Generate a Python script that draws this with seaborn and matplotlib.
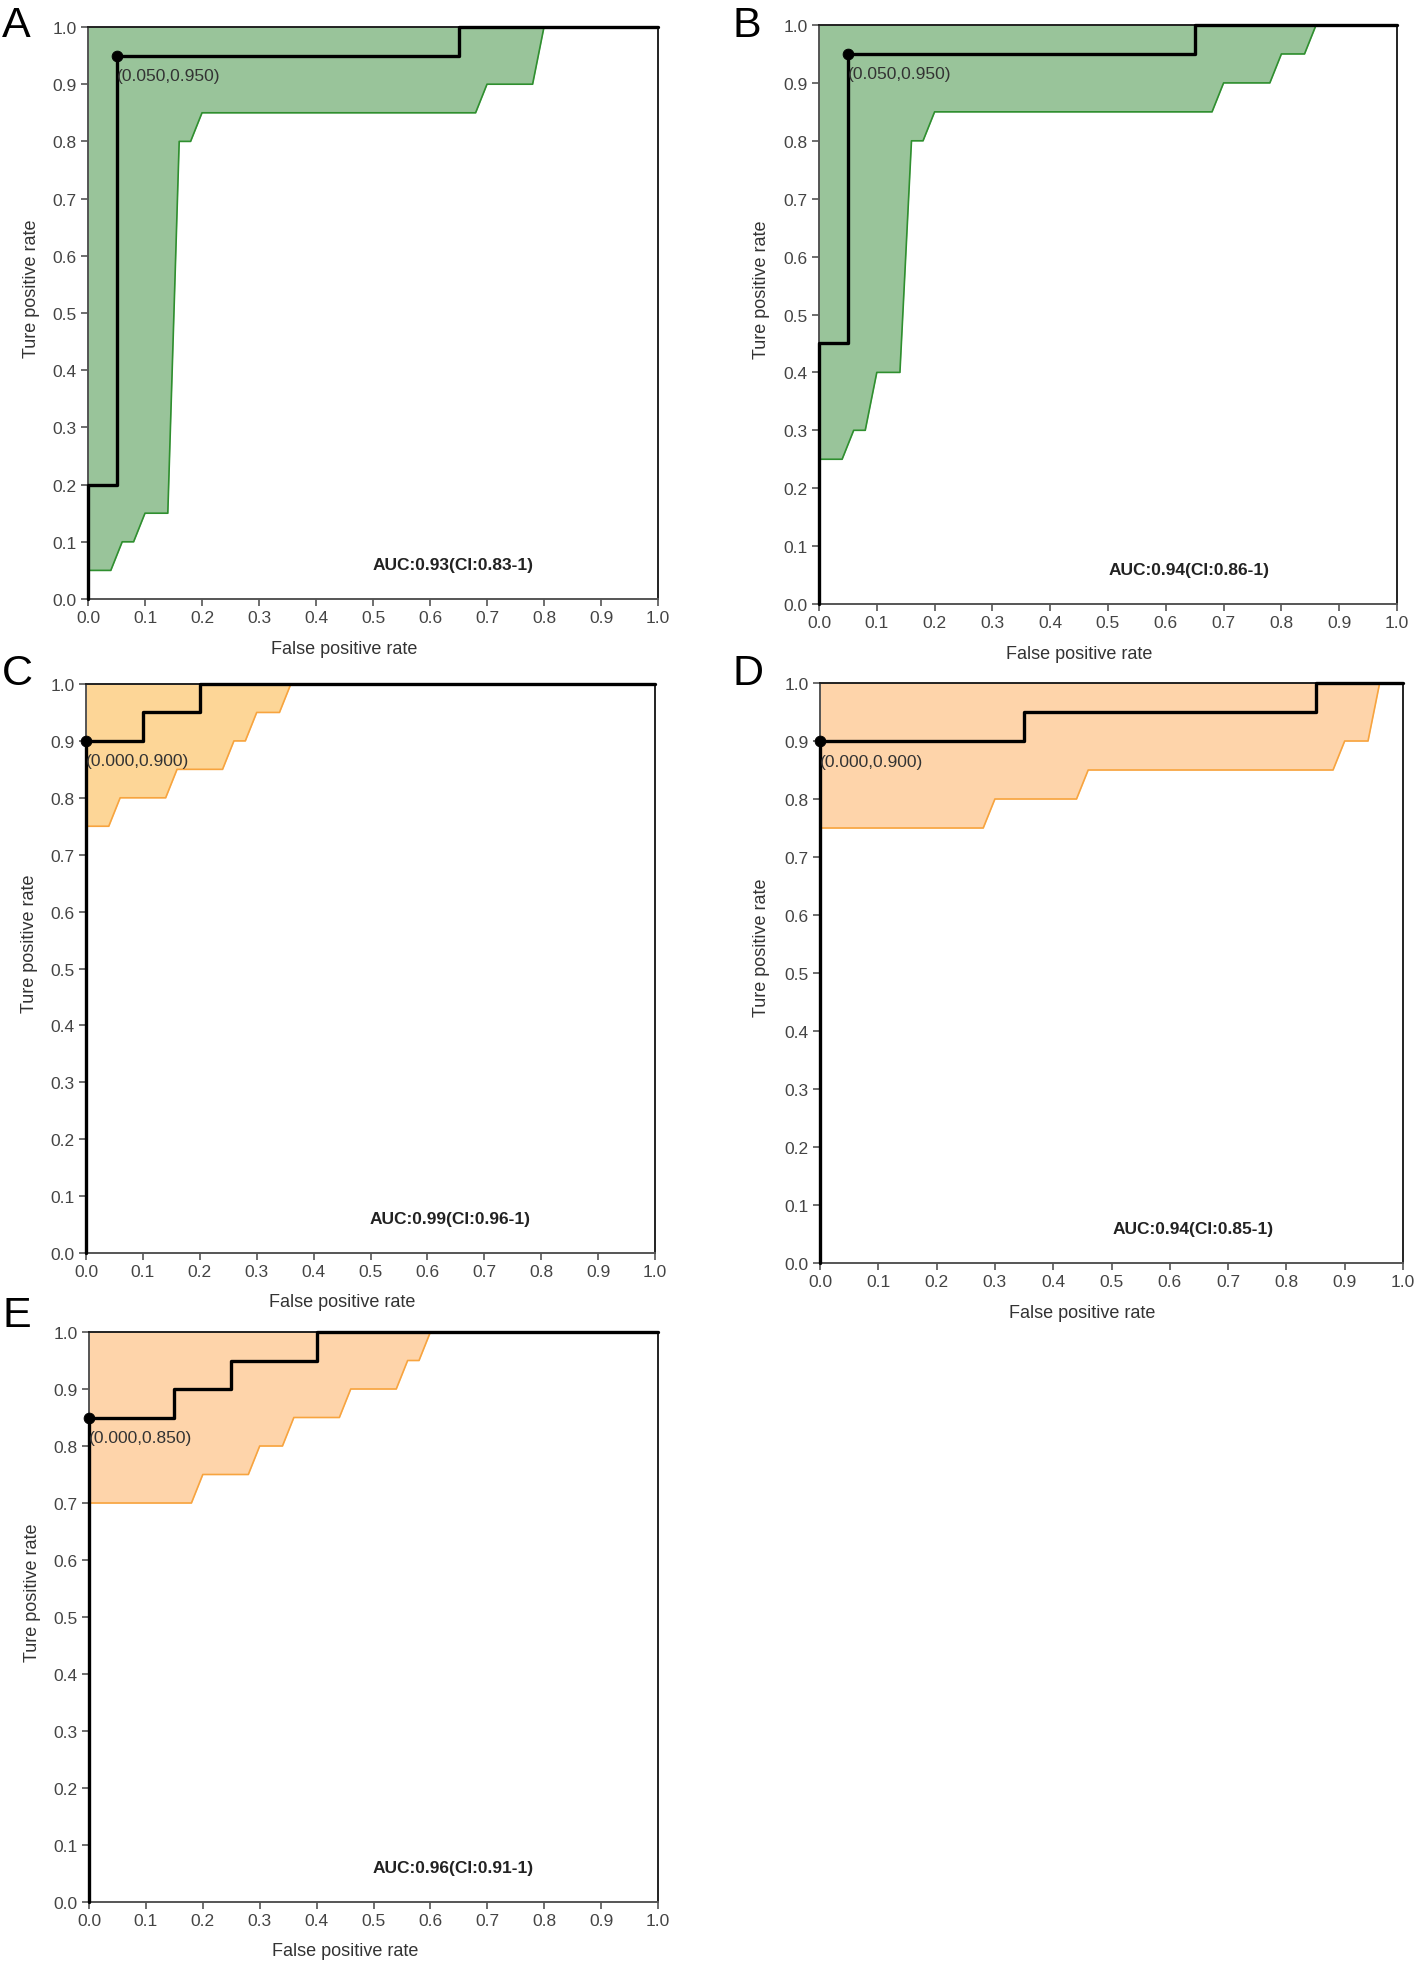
import matplotlib
matplotlib.use('Agg')
import matplotlib.pyplot as plt
import seaborn as sns
import pandas as pd

sns.set_style('white')
plt.rcParams['font.family'] = ['Liberation Sans', 'DejaVu Sans']

# ROC step curves (fpr, tpr)
roc_a_x = [0, 0, 0.05, 0.05, 0.65, 0.65, 1.0]
roc_a_y = [0, 0.2, 0.2, 0.95, 0.95, 1.0, 1.0]
roc_b_x = [0, 0, 0.05, 0.05, 0.65, 0.65, 1.0]
roc_b_y = [0, 0.45, 0.45, 0.95, 0.95, 1.0, 1.0]
roc_c_x = [0, 0, 0.1, 0.1, 0.2, 0.2, 1.0]
roc_c_y = [0, 0.9, 0.9, 0.95, 0.95, 1.0, 1.0]
roc_d_x = [0, 0, 0.35, 0.35, 0.85, 0.85, 1.0]
roc_d_y = [0, 0.9, 0.9, 0.95, 0.95, 1.0, 1.0]
roc_e_x = [0, 0, 0.15, 0.15, 0.25, 0.25, 0.4, 0.4, 1.0]
roc_e_y = [0, 0.85, 0.85, 0.9, 0.9, 0.95, 0.95, 1.0, 1.0]

# lower bound of confidence band (upper bound is 1.0)
ci_a_x = [0, 0.04, 0.06, 0.08, 0.1, 0.14, 0.16, 0.18, 0.2, 0.68, 0.7, 0.78, 0.8]
ci_a_y = [0.05, 0.05, 0.1, 0.1, 0.15, 0.15, 0.8, 0.8, 0.85, 0.85, 0.9, 0.9, 1.0]
ci_b_x = [0, 0.04, 0.06, 0.08, 0.1, 0.14, 0.16, 0.18, 0.2, 0.68, 0.7, 0.78, 0.8, 0.84, 0.86]
ci_b_y = [0.25, 0.25, 0.3, 0.3, 0.4, 0.4, 0.8, 0.8, 0.85, 0.85, 0.9, 0.9, 0.95, 0.95, 1.0]
ci_c_x = [0, 0.04, 0.06, 0.14, 0.16, 0.24, 0.26, 0.28, 0.3, 0.34, 0.36]
ci_c_y = [0.75, 0.75, 0.8, 0.8, 0.85, 0.85, 0.9, 0.9, 0.95, 0.95, 1.0]
ci_d_x = [0, 0.28, 0.3, 0.44, 0.46, 0.88, 0.9, 0.94, 0.96]
ci_d_y = [0.75, 0.75, 0.8, 0.8, 0.85, 0.85, 0.9, 0.9, 1.0]
ci_e_x = [0, 0.18, 0.2, 0.28, 0.3, 0.34, 0.36, 0.44, 0.46, 0.54, 0.56, 0.58, 0.6]
ci_e_y = [0.7, 0.7, 0.75, 0.75, 0.8, 0.8, 0.85, 0.85, 0.9, 0.9, 0.95, 0.95, 1.0]

cut_points = [(0.05, 0.95), (0.05, 0.95), (0.0, 0.9), (0.0, 0.9), (0.0, 0.85)]
auc_texts = ['AUC:0.93(CI:0.83-1)', 'AUC:0.94(CI:0.86-1)', 'AUC:0.99(CI:0.96-1)',
             'AUC:0.94(CI:0.85-1)', 'AUC:0.96(CI:0.91-1)']
letters = ['A', 'B', 'C', 'D', 'E']

green_fill, green_edge = '#99c49a', '#2f8f2f'
orange_fill_c, orange_fill, orange_edge = '#fdd697', '#fed4aa', '#f7a43f'

panels = [
    (roc_a_x, roc_a_y, ci_a_x, ci_a_y, green_fill, green_edge),
    (roc_b_x, roc_b_y, ci_b_x, ci_b_y, green_fill, green_edge),
    (roc_c_x, roc_c_y, ci_c_x, ci_c_y, orange_fill_c, orange_edge),
    (roc_d_x, roc_d_y, ci_d_x, ci_d_y, orange_fill, orange_edge),
    (roc_e_x, roc_e_y, ci_e_x, ci_e_y, orange_fill, orange_edge),
]

W, H = 1418, 1965
# axes boxes in pixels: left, top, right, bottom
boxes = [(88, 28, 658, 600), (819, 26, 1397, 605), (86, 685, 655, 1254),
         (820, 684, 1403, 1264), (89, 1333, 658, 1903)]
letter_pos = [(2, 6), (733, 6), (2, 654), (733, 654), (2, 1296)]

fig = plt.figure(figsize=(W / 100, H / 100), dpi=100)
ticks = [i / 10 for i in range(11)]

for i, (rx, ry, lx, ly, fc, ec) in enumerate(panels):
    l, t, r, b = boxes[i]
    ax = fig.add_axes([l / W, 1 - b / H, (r - l) / W, (b - t) / H])
    # confidence band
    ax.fill_between(lx, ly, [1.0] * len(lx), color=fc, lw=0, zorder=1)
    band = pd.DataFrame({'x': lx, 'y': ly})
    sns.lineplot(data=band, x='x', y='y', sort=False, estimator=None,
                 color=ec, lw=1.2, ax=ax, zorder=2)
    ax.plot([0, 0, lx[-1]], [ly[0], 1.0, 1.0], color=ec, lw=1.2, zorder=2)
    # ROC curve
    roc = pd.DataFrame({'fpr': rx, 'tpr': ry})
    sns.lineplot(data=roc, x='fpr', y='tpr', sort=False, estimator=None,
                 color='black', lw=2.4, ax=ax, zorder=4, clip_on=False)
    px, py = cut_points[i]
    sns.scatterplot(x=[px], y=[py], color='black', s=60, ax=ax, zorder=5,
                    edgecolor='black', clip_on=False)
    ax.annotate('(%.3f,%.3f)' % (px, py), (px, py), xytext=(0, -9),
                textcoords='offset points', ha='left', va='top',
                fontsize=12.5, color='#333333', zorder=6)
    ax.text(0.64, 0.06, auc_texts[i], transform=ax.transAxes, ha='center',
            va='center', fontsize=12.5, fontweight='bold', color='#222222')

    ax.set_xlim(0, 1)
    ax.set_ylim(0, 1)
    ax.set_xticks(ticks)
    ax.set_yticks(ticks)
    ax.set_xticklabels(['%.1f' % v for v in ticks])
    ax.set_yticklabels(['%.1f' % v for v in ticks])
    ax.tick_params(axis='both', direction='out', length=5, width=1.2,
                   color='#555555', labelcolor='#444444', labelsize=12.5,
                   bottom=True, left=True, pad=3)
    ax.set_xlabel('False positive rate', fontsize=13, color='#333333')
    ax.set_ylabel('Ture positive rate', fontsize=13, color='#333333')
    ax.xaxis.set_label_coords(0.45, -0.071)
    ax.yaxis.set_label_coords(-0.085, 0.545)
    for side in ['left', 'bottom']:
        ax.spines[side].set_color('#555555')
        ax.spines[side].set_linewidth(1.4)
    for side in ['top', 'right']:
        ax.spines[side].set_color('#222222')
        ax.spines[side].set_linewidth(1.4)
    lxp, lyp = letter_pos[i]
    fig.text(lxp / W, 1 - lyp / H, letters[i], fontsize=31, ha='left', va='top',
             color='black')

fig.savefig('out.png', dpi=100, facecolor='white')
